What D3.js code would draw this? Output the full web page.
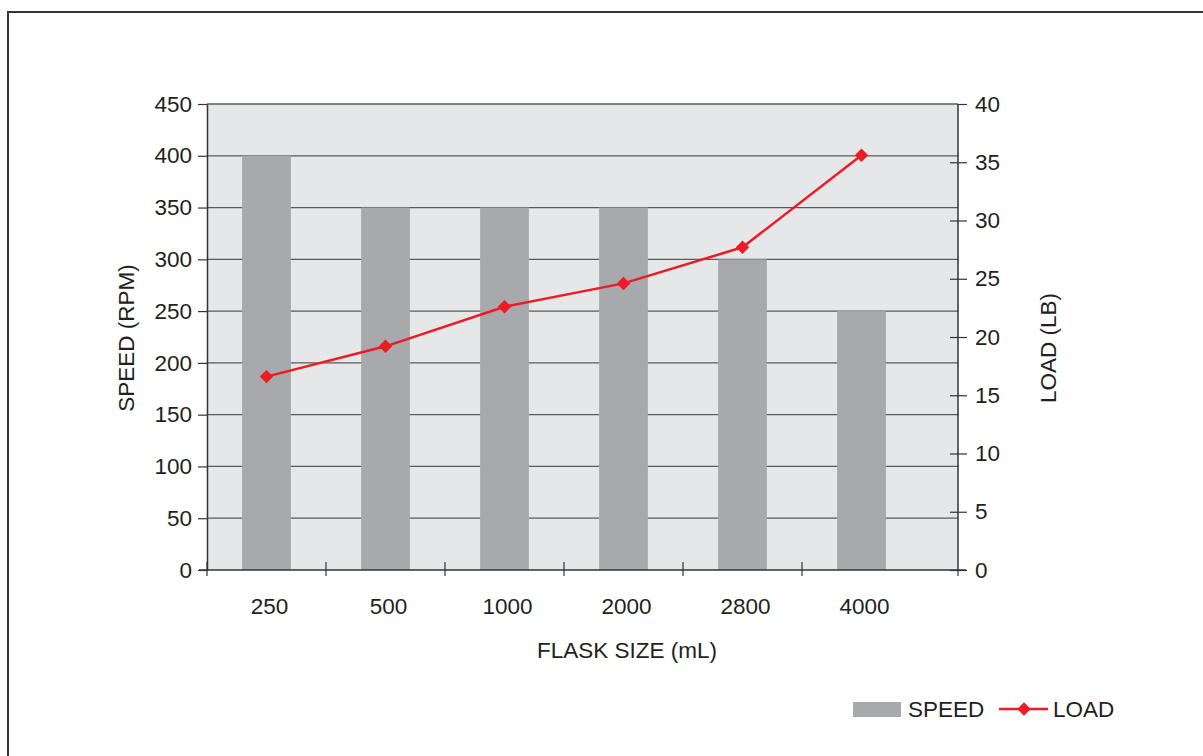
<!DOCTYPE html>
<meta charset="utf-8">
<head>
<style>
	body {
	margin: 0;
	background-color: #ffffff;
	font-family: 'Liberation Sans', Arial, sans-serif;
	}
	text { fill: #231f20; }
</style>
</head>
<body>
<div id="chart"></div>
<script src="https://d3js.org/d3.v7.min.js"></script>
<script>

// chart data
var flaskSizes = ["250", "500", "1000", "2000", "2800", "4000"];
var speedRpm = [400, 350, 350, 350, 300, 250];
var loadLb = [16.6, 19.2, 22.6, 24.6, 27.7, 35.6];
var speedTicks = [0, 50, 100, 150, 200, 250, 300, 350, 400, 450];
var loadTicks = [0, 5, 10, 15, 20, 25, 30, 35, 40];

var W = 1203, H = 756;
var plot = {left: 207, right: 958, top: 104, bottom: 570};
var fs = "22.5px";

var svg = d3.select("#chart")
  .append("svg")
  .attr("width", W)
  .attr("height", H);

// outer frame
svg.append("path")
  .attr("d", "M8," + (H + 5) + " L8,12 L" + (W + 5) + ",12")
  .attr("fill", "none")
  .attr("stroke", "#333")
  .attr("stroke-width", 2);

// scales
var x = d3.scaleBand()
  .domain(flaskSizes)
  .range([plot.left, plot.left + 6 * 119])
  .padding(0);

var yL = d3.scaleLinear().domain([0, 450]).range([plot.bottom, plot.top]);
var yR = d3.scaleLinear().domain([0, 40]).range([plot.bottom, plot.top]);

// plot background
svg.append("rect")
  .attr("x", plot.left)
  .attr("y", plot.top)
  .attr("width", plot.right - plot.left)
  .attr("height", plot.bottom - plot.top)
  .style("fill", "#e6e7e8");

// gridlines
svg.selectAll(".grid")
  .data(speedTicks.filter(function(t) { return t > 0; }))
  .enter()
  .append("line")
    .attr("x1", plot.left)
    .attr("x2", plot.right)
    .attr("y1", function(d) { return yL(d); })
    .attr("y2", function(d) { return yL(d); })
    .style("stroke", "#5a5a5a")
    .style("stroke-width", 1.3);

// bars
var barW = x.bandwidth() * 0.41;
svg.selectAll(".bar")
  .data(flaskSizes)
  .enter()
  .append("rect")
    .attr("x", function(d) { return x(d) + (x.bandwidth() - barW) / 2; })
    .attr("y", function(d, i) { return yL(speedRpm[i]); })
    .attr("width", barW)
    .attr("height", function(d, i) { return plot.bottom - yL(speedRpm[i]); })
    .style("fill", "#a7a9ac");

// right border of plot area
svg.append("line")
  .attr("x1", plot.right).attr("x2", plot.right)
  .attr("y1", plot.top).attr("y2", plot.bottom)
  .style("stroke", "#333").style("stroke-width", 1.5);

// left axis
var leftAxis = svg.append("g")
  .attr("transform", "translate(" + plot.left + ",0)")
  .call(d3.axisLeft(yL).tickValues(speedTicks).tickSizeInner(9).tickSizeOuter(0).tickPadding(6));
leftAxis.select(".domain").style("stroke", "#333").style("stroke-width", 1.5);
leftAxis.selectAll(".tick line").style("stroke", "#333").style("stroke-width", 1.2);
leftAxis.selectAll(".tick text")
  .style("font-size", fs)
  .style("font-family", "'Liberation Sans', Arial, sans-serif")
  .style("fill", "#231f20");

// right axis
var rightAxis = svg.append("g")
  .attr("transform", "translate(" + plot.right + ",0)")
  .call(d3.axisRight(yR).tickValues(loadTicks).tickSizeInner(9).tickSizeOuter(0).tickPadding(8));
rightAxis.select(".domain").remove();
rightAxis.selectAll(".tick line")
  .attr("x1", function(d) { return d === 40 ? 0 : -8; })
  .style("stroke", "#333").style("stroke-width", 1.2);
rightAxis.selectAll(".tick text")
  .style("font-size", fs)
  .style("font-family", "'Liberation Sans', Arial, sans-serif")
  .style("fill", "#231f20");

// bottom axis line
svg.append("line")
  .attr("x1", plot.left - 8).attr("x2", plot.right + 8)
  .attr("y1", plot.bottom).attr("y2", plot.bottom)
  .style("stroke", "#333").style("stroke-width", 1.5);

// category ticks crossing the axis
svg.selectAll(".xtick")
  .data(flaskSizes)
  .enter()
  .append("line")
    .attr("x1", function(d) { return x(d); })
    .attr("x2", function(d) { return x(d); })
    .attr("y1", plot.bottom - 8)
    .attr("y2", plot.bottom + 6)
    .style("stroke", "#333").style("stroke-width", 1.2);
svg.append("line")
  .attr("x1", plot.right).attr("x2", plot.right)
  .attr("y1", plot.bottom).attr("y2", plot.bottom + 6)
  .style("stroke", "#333").style("stroke-width", 1.2);

// category labels
svg.selectAll(".xlabel")
  .data(flaskSizes)
  .enter()
  .append("text")
    .attr("x", function(d) { return x(d) + x.bandwidth() / 2 + 3; })
    .attr("y", plot.bottom + 44)
    .attr("text-anchor", "middle")
    .style("font-size", fs)
    .text(function(d) { return d; });

// load line
var line = d3.line()
  .x(function(d, i) { return x(flaskSizes[i]) + x.bandwidth() / 2; })
  .y(function(d) { return yR(d); });

svg.append("path")
  .datum(loadLb)
  .attr("d", line)
  .attr("fill", "none")
  .attr("stroke", "#ed1c24")
  .attr("stroke-width", 2.5);

svg.selectAll(".marker")
  .data(loadLb)
  .enter()
  .append("path")
    .attr("d", d3.symbol().type(d3.symbolDiamond2).size(115))
    .attr("transform", function(d, i) {
      return "translate(" + (x(flaskSizes[i]) + x.bandwidth() / 2) + "," + yR(d) + ")";
    })
    .style("fill", "#ed1c24");

// axis titles
svg.append("text")
  .attr("transform", "translate(134,338) rotate(-90)")
  .attr("text-anchor", "middle")
  .style("font-size", fs)
  .text("SPEED (RPM)");

svg.append("text")
  .attr("transform", "translate(1056,348) rotate(-90)")
  .attr("text-anchor", "middle")
  .style("font-size", fs)
  .text("LOAD (LB)");

svg.append("text")
  .attr("x", 627)
  .attr("y", 658)
  .attr("text-anchor", "middle")
  .style("font-size", fs)
  .text("FLASK SIZE (mL)");

// legend
svg.append("rect")
  .attr("x", 853).attr("y", 702)
  .attr("width", 48).attr("height", 15)
  .style("fill", "#a7a9ac");
svg.append("text")
  .attr("x", 908).attr("y", 717)
  .style("font-size", fs)
  .text("SPEED");
svg.append("line")
  .attr("x1", 999).attr("x2", 1048)
  .attr("y1", 709).attr("y2", 709)
  .style("stroke", "#ed1c24").style("stroke-width", 2.5);
svg.append("path")
  .attr("d", d3.symbol().type(d3.symbolDiamond2).size(115))
  .attr("transform", "translate(1024,709)")
  .style("fill", "#ed1c24");
svg.append("text")
  .attr("x", 1053).attr("y", 717)
  .style("font-size", fs)
  .text("LOAD");

</script>
</body>
